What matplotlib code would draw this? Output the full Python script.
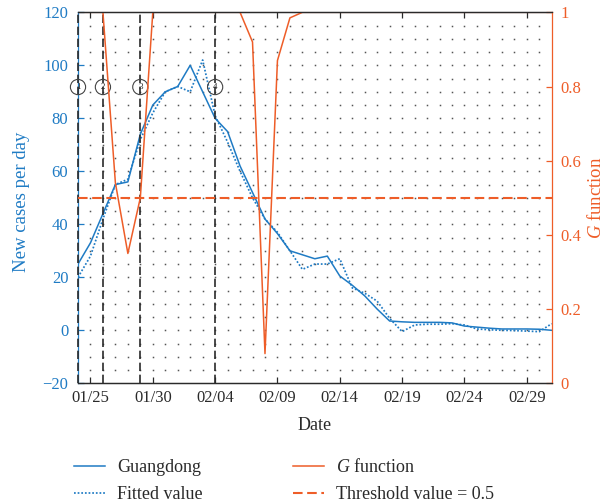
import matplotlib
matplotlib.use('Agg')
import matplotlib.pyplot as plt
import matplotlib.dates as mdates
import numpy as np
import pandas as pd

# ---------------- data ----------------
start_date = '2020-01-24'
guangdong = [25, 33, 44, 55, 56, 74, 85, 90, 92, 100, 90, 80, 75, 62, 52, 42, 36.5, 30,
             28.5, 27, 28, 20.5, 17, 13, 8, 3.5, 3.2, 3, 3, 3, 2.8, 1.6, 1.2, 0.8, 0.5,
             0.5, 0.5, 0.4, 0]
fitted = [20, 28, 42, 55, 57, 72, 82, 90, 92, 90, 102, 81, 71, 60, 50, 42, 37, 30,
          23, 25, 25, 27, 16, 14, 11, 4.5, -0.5, 2, 2.3, 2.3, 2.5, 2, 0.5, 0.2, 0,
          -0.1, -0.3, -0.5, 2.5]
g_function = [1, 1, 1, 0.54, 0.35, 0.50, 1, 1, 1, 1, 1, 1, 1, 1, 0.92, 0.08, 0.87,
              0.985, 1, 1, 1, 1, 1, 1, 1, 1, 1, 1, 1, 1, 1, 1, 1, 1, 1, 1, 1, 1, 1]
threshold = 0.5
marker_dates = ['2020-01-24', '2020-01-26', '2020-01-29', '2020-02-04']
marker_labels = ['1', '2', '3', '4']
x_tick_dates = ['2020-01-25', '2020-01-30', '2020-02-04', '2020-02-09', '2020-02-14',
                '2020-02-19', '2020-02-24', '2020-02-29']
x_tick_labels = ['01/25', '01/30', '02/04', '02/09', '02/14', '02/19', '02/24', '02/29']
x_limits = ['2020-01-24', '2020-03-02']
left_ticks = [-20, 0, 20, 40, 60, 80, 100, 120]
left_tick_labels = ['\u221220', '0', '20', '40', '60', '80', '100', '120']
right_ticks = [0, 0.2, 0.4, 0.6, 0.8, 1]
right_tick_labels = ['0', '0.2', '0.4', '0.6', '0.8', '1']

# ---------------- style ----------------
plt.rcParams['font.family'] = ['Liberation Serif', 'DejaVu Serif']
plt.rcParams['mathtext.fontset'] = 'custom'
plt.rcParams['mathtext.rm'] = 'Liberation Serif'
plt.rcParams['mathtext.it'] = 'Liberation Serif:italic'
BLUE = '#1f7bc4'
ORANGE = '#ee5d28'
DARK = '#2a2a2a'
FS = 12
LFS = 13

fig = plt.figure(figsize=(6.08, 5.04), dpi=100)
ax = fig.add_axes([78 / 608, 1 - 383.3 / 504, 473.7 / 608, 371 / 504])
ax2 = ax.twinx()

dates = pd.date_range(start_date, periods=len(guangdong))
x = mdates.date2num(dates)

# dotted grid at intersections (every day, every 5 cases)
gx, gy = np.meshgrid(x[1:-1], np.arange(-15, 120, 5))
ax.plot(gx.ravel(), gy.ravel(), ls='none', marker='s', ms=1.1, mew=0,
        color='#555555', zorder=1)

l1, = ax.plot(x, guangdong, color=BLUE, lw=1.1, zorder=3, label='Guangdong')
l2, = ax.plot(x, fitted, color=BLUE, lw=1.25, ls=(0, (1, 1.1)), zorder=3,
              label='Fitted value')

for d, lab in zip(marker_dates, marker_labels):
    xd = mdates.date2num(pd.Timestamp(d))
    ax.axvline(xd, color=DARK, ls=(0, (5, 2.2)), lw=1.2, zorder=4, clip_on=False)
    ax.text(xd, 91.8, lab, ha='center', va='center', fontsize=6.5, color=DARK,
            zorder=5, clip_on=False,
            bbox=dict(boxstyle='circle,pad=0.4', fc='none', ec='#444444', lw=0.8))

l3, = ax2.plot(x, g_function, color=ORANGE, lw=1.1, label='$G$ function')
l4 = ax2.axhline(threshold, color=ORANGE, lw=1.5, ls=(0, (4.6, 2.2)),
                 label='Threshold value = 0.5')

ax.set_xlim(mdates.date2num(pd.Timestamp(x_limits[0])),
            mdates.date2num(pd.Timestamp(x_limits[1])))
ax.set_ylim(-20, 120)
ax2.set_ylim(0, 1)

ax.set_xticks([mdates.date2num(pd.Timestamp(d)) for d in x_tick_dates])
ax.set_xticklabels(x_tick_labels, fontsize=FS, color=DARK)
ax.set_yticks(left_ticks)
ax.set_yticklabels(left_tick_labels, fontsize=FS, color=BLUE)
ax2.set_yticks(right_ticks)
ax2.set_yticklabels(right_tick_labels, fontsize=FS, color=ORANGE)

ax.tick_params(axis='x', direction='in', top=True, length=4, width=0.9,
               color=DARK, pad=5)
ax.tick_params(axis='y', direction='in', length=4, width=0.9, color=BLUE, pad=7)
ax2.tick_params(axis='y', direction='in', length=4, width=0.9, color=ORANGE, pad=6)

ax.spines['left'].set_color(BLUE)
ax.spines['right'].set_visible(False)
ax2.spines['left'].set_visible(False)
for a in (ax, ax2):
    a.spines['top'].set_color(DARK)
    a.spines['bottom'].set_color(DARK)
    for s in a.spines.values():
        s.set_linewidth(0.9)
ax2.spines['right'].set_color(ORANGE)

ax.set_xlabel('Date', fontsize=LFS, color=DARK)
ax.xaxis.set_label_coords(0.5, -0.092)
ax.set_ylabel('New cases per day', fontsize=13.5, color=BLUE)
ax.yaxis.set_label_coords(-0.101, 0.489)
ax2.set_ylabel('$G$ function', fontsize=13.5, color=ORANGE)
ax2.yaxis.set_label_coords(1.074, 0.5)

fig.legend([l1, l2, l3, l4], [l.get_label() for l in [l1, l2, l3, l4]],
           loc='upper left', bbox_to_anchor=(74 / 608, 1 - 458 / 504), ncol=2,
           frameon=False, fontsize=LFS, handlelength=1.74, handletextpad=0.64,
           columnspacing=5.0, labelspacing=0.58, borderpad=0, borderaxespad=0,
           labelcolor=DARK)

fig.savefig('out.png', dpi=100)
